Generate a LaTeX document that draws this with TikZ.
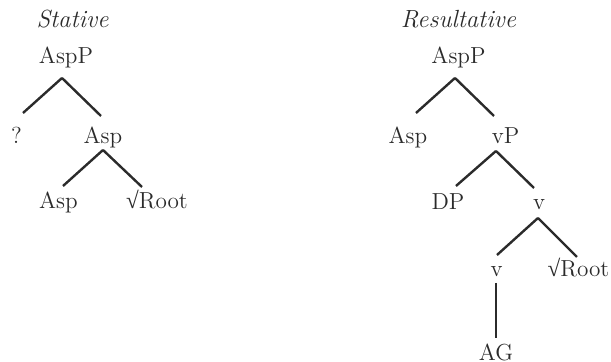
\documentclass[tikz,border=0pt]{standalone}
\usepackage{fontspec}
\newfontfamily\radfont{Liberation Serif}
\definecolor{ink}{HTML}{2B2B2B}
\newcommand\rootlab{{\radfont\char"221A}Root}
\begin{document}
\begin{tikzpicture}[x=0.5pt,y=-0.5pt,
    lab/.style={anchor=base, inner sep=0pt, text=ink,
      font=\fontsize{11.6}{14}\selectfont},
    ttl/.style={lab, font=\fontsize{12.4}{14}\selectfont\itshape},
    branch/.style={draw=ink, line width=1.2pt}]
  \useasboundingbox (0,0) rectangle (611,362);

  % Stative tree
  \node[ttl] (st)  at (72.5,28) {Stative};
  \node[lab] (l0)  at (66,64)   {AspP};
  \node[lab] (l1)  at (16.5,144) {?};
  \node[lab] (l2)  at (103,144) {Asp};
  \node[lab] (l3)  at (58.5,209) {Asp};
  \node[lab] (l4)  at (157,209) {\rootlab};

  \draw[branch] ([shift={(-4,14)}]l0.base) -- ([shift={(6.5,-31)}]l1.base);
  \draw[branch] ([shift={(-4,14)}]l0.base) -- ([shift={(-2,-28)}]l2.base);
  \draw[branch] ([shift={(0,6)}]l2.base) -- ([shift={(4.5,-23)}]l3.base);
  \draw[branch] ([shift={(0,6)}]l2.base) -- ([shift={(-15,-22)}]l4.base);

  % Resultative tree
  \node[ttl] (rt)  at (458.5,28) {Resultative};
  \node[lab] (r0)  at (458.5,64) {AspP};
  \node[lab] (r1)  at (408,144)  {Asp};
  \node[lab] (r2)  at (505.5,144) {vP};
  \node[lab] (r3)  at (448,210)  {DP};
  \node[lab] (r4)  at (539,210)  {v};
  \node[lab] (r5)  at (496.5,277) {v};
  \node[lab] (r6)  at (578.5,277) {\rootlab};
  \node[lab] (r7)  at (496,360.5)  {AG};

  \draw[branch] ([shift={(-3.5,14)}]r0.base) -- ([shift={(8,-31)}]r1.base);
  \draw[branch] ([shift={(-3.5,14)}]r0.base) -- ([shift={(-11.5,-28)}]r2.base);
  \draw[branch] ([shift={(-9.5,7)}]r2.base) -- ([shift={(8,-24)}]r3.base);
  \draw[branch] ([shift={(-9.5,7)}]r2.base) -- ([shift={(-5,-22)}]r4.base);
  \draw[branch] ([shift={(-1,8)}]r4.base) -- ([shift={(0.5,-22)}]r5.base);
  \draw[branch] ([shift={(-1,8)}]r4.base) -- ([shift={(-1.5,-20)}]r6.base);
  \draw[branch] ([shift={(-0.5,6)}]r5.base) -- ([shift={(0,-22.5)}]r7.base);
\end{tikzpicture}
\end{document}
